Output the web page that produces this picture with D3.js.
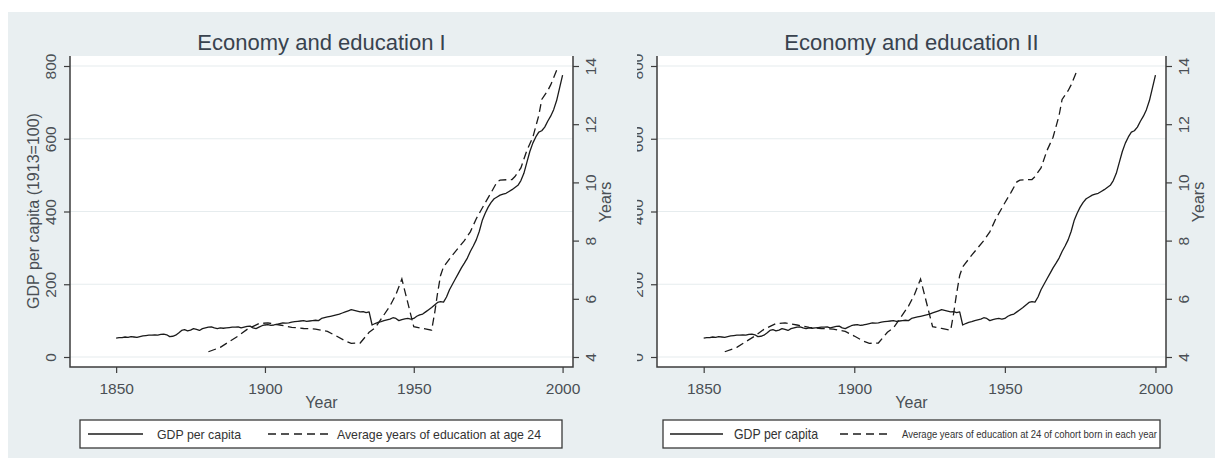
<!DOCTYPE html>
<html>
<head>
<meta charset="utf-8">
<script src="https://cdn.jsdelivr.net/npm/d3@7"></script>
<style>
  body { margin: 0; background: #fff; }
  text { font-family: "Liberation Sans", Arial, sans-serif; }
</style>
</head>
<body>
<svg id="chart" width="1215" height="462"></svg>
<script>
// GDP per capita, 1913 = 100, one value per year 1850..2000
const gdpYears = d3.range(1850, 2001);
const gdpValues = [
  52, 53, 53, 55, 54, 56, 55, 54, 56, 58,
  59, 60, 60, 61, 60, 62, 63, 61, 56, 57,
  60, 66, 73, 75, 72, 74, 78, 76, 73, 78,
  80, 82, 83, 80, 78, 80, 79, 80, 81, 82,
  82, 83, 80, 82, 84, 85, 80, 78, 82, 86,
  88, 89, 87, 88, 90, 92, 94, 93, 94, 96,
  97, 98, 99, 100, 98, 99, 100, 101, 100, 106,
  108, 110, 112, 114, 116, 118, 121, 124, 127, 130,
  128, 126, 124, 125, 122, 124, 88, 92, 95, 97,
  100, 102, 104, 108, 106, 100, 103, 105, 106, 104,
  106, 112, 116, 118, 124, 130, 136, 143, 150, 152,
  151, 165, 185, 200, 215, 230, 245, 258, 272, 290,
  305, 322, 345, 375, 395, 412, 425, 435, 440, 445,
  448, 450, 455, 460, 466, 472, 485, 505, 535, 565,
  588, 605, 618, 622, 632, 648, 662, 680, 705, 740,
  775
];

// average years of education at age 24 (year observed)
const eduYears = [1881, 1885, 1888, 1891, 1894, 1898, 1901, 1905, 1909, 1913,
  1917, 1921, 1924, 1927, 1929, 1932, 1935, 1937, 1939, 1942,
  1944, 1946, 1950, 1953, 1956, 1957, 1958, 1959, 1960, 1963,
  1967, 1969, 1971, 1974, 1976, 1978, 1979, 1983, 1984, 1986,
  1988, 1990, 1992, 1993, 1995, 1996, 1998];
const eduValues = [4.18, 4.33, 4.53, 4.72, 4.95, 5.15, 5.17, 5.1, 5.02, 4.98,
  4.96, 4.88, 4.72, 4.55, 4.47, 4.48, 4.85, 5.0, 5.3, 5.75,
  6.15, 6.68, 5.04, 4.98, 4.92, 5.5, 6.2, 6.8, 7.1, 7.5,
  8.0, 8.3, 8.75, 9.3, 9.65, 10.02, 10.08, 10.1, 10.2, 10.5,
  11.1, 11.55, 12.3, 12.85, 13.15, 13.35, 13.85];

const COHORT_AGE = 24; // panel II plots education by birth year of the cohort

const gdpTicks = [0, 200, 400, 600, 800];
const eduTicks = [4, 6, 8, 10, 12, 14];
const yearTicks = [1850, 1900, 1950, 2000];

const gdp = gdpYears.map((y, i) => ({ year: y, v: gdpValues[i] }));
const edu = eduYears.map((y, i) => ({ year: y, v: eduValues[i] }));

const INK = "#1b1b1b",
  AXIS = "#3d3d3d",
  LABEL = "#4a4f55",
  TITLE = "#38424e";

const panels = [
  {
    title: "Economy and education I",
    left: 70, right: 573, shift: 0, clipX: 0,
    legend: {
      x: 80, w: 482, line: [88, 143], gdpX: 157, gdpSize: 13, gdpLen: 84,
      dash: [268, 328], eduX: 337, eduSize: 13, eduLen: 204,
      eduLabel: "Average years of education at age 24",
    },
  },
  {
    title: "Economy and education II",
    left: 657, right: 1166, shift: COHORT_AGE, clipX: 637,
    legend: {
      x: 663, w: 497, line: [670, 723], gdpX: 734, gdpSize: 14.5, gdpLen: 84,
      dash: [840, 892], eduX: 902, eduSize: 10, eduLen: 255,
      eduLabel: "Average years of education at 24 of cohort born in each year",
    },
  },
];

const svg = d3.select("#chart");

// graph region background
svg.append("rect").attr("x", 8).attr("y", 12).attr("width", 1207).attr("height", 446)
  .attr("fill", "#e9eff1");

const plotTop = 56, plotBottom = 367;

panels.forEach((p, pi) => {
  const x = d3.scaleLinear().domain([1834.5, 2003.5]).range([p.left, p.right]);
  const yL = d3.scaleLinear().domain([0, 800]).range([357, 66]);
  const yR = d3.scaleLinear().domain([4, 14]).range([357, 66]);

  let g = svg.append("g");
  if (p.clipX) {
    svg.append("clipPath").attr("id", "clip" + pi)
      .append("rect").attr("x", p.clipX).attr("y", 0).attr("width", 1215 - p.clipX).attr("height", 462);
    g.attr("clip-path", `url(#clip${pi})`);
  }

  g.append("rect").attr("x", p.left).attr("y", plotTop)
    .attr("width", p.right - p.left).attr("height", plotBottom - plotTop).attr("fill", "#fff");

  // gridlines
  g.selectAll("line.grid").data(gdpTicks).enter().append("line")
    .attr("x1", p.left).attr("x2", p.right)
    .attr("y1", (d) => yL(d)).attr("y2", (d) => yL(d))
    .attr("stroke", "#e6ecee").attr("stroke-width", 1.2);

  // axes
  const left = g.append("g").attr("transform", `translate(${p.left},0)`)
    .call(d3.axisLeft(yL).tickValues(gdpTicks).tickSize(6));
  const right = g.append("g").attr("transform", `translate(${p.right},0)`)
    .call(d3.axisRight(yR).tickValues(eduTicks).tickSize(6));
  const bottom = g.append("g").attr("transform", `translate(0,${plotBottom})`)
    .call(d3.axisBottom(x).tickValues(yearTicks).tickFormat(d3.format("d")).tickSize(6));

  [left, right, bottom].forEach((ax) => {
    ax.select(".domain").remove();
    ax.selectAll(".tick line").attr("stroke", AXIS).attr("stroke-width", 1.2);
    ax.selectAll(".tick text").attr("fill", LABEL).attr("font-size", 15.5)
      .attr("font-family", '"Liberation Sans", Arial, sans-serif');
  });
  left.selectAll(".tick text")
    .attr("x", null).attr("dy", null)
    .attr("text-anchor", "middle")
    .attr("transform", "translate(-14,0) rotate(-90)");
  right.selectAll(".tick text")
    .attr("x", null).attr("dy", null)
    .attr("text-anchor", "middle")
    .attr("transform", "translate(23,0) rotate(-90)");
  bottom.selectAll(".tick text").attr("dy", null).attr("y", 27);

  // axis lines (no top axis)
  g.append("path")
    .attr("d", `M${p.left},${plotTop}V${plotBottom}H${p.right}V${plotTop}`)
    .attr("fill", "none").attr("stroke", AXIS).attr("stroke-width", 1.5);

  // axis titles
  g.append("text").attr("transform", `translate(${p.left - 31},211) rotate(-90)`)
    .attr("text-anchor", "middle").attr("font-size", 16).attr("fill", LABEL)
    .text("GDP per capita (1913=100)");
  g.append("text").attr("transform", `translate(${p.right + 38},202) rotate(-90)`)
    .attr("text-anchor", "middle").attr("font-size", 16).attr("fill", LABEL)
    .text("Years");
  g.append("text").attr("x", (p.left + p.right) / 2).attr("y", 408)
    .attr("text-anchor", "middle").attr("font-size", 16).attr("fill", LABEL)
    .text("Year");

  // title
  g.append("text").attr("x", (p.left + p.right) / 2).attr("y", 50)
    .attr("text-anchor", "middle").attr("font-size", 22).attr("fill", TITLE)
    .text(p.title);

  // series
  const gdpLine = d3.line().x((d) => x(d.year)).y((d) => yL(d.v));
  const eduLine = d3.line().x((d) => x(d.year - p.shift)).y((d) => yR(d.v));

  g.append("path").datum(gdp).attr("d", gdpLine)
    .attr("fill", "none").attr("stroke", INK).attr("stroke-width", 1.3)
    .attr("stroke-linejoin", "round");
  g.append("path").datum(edu).attr("d", eduLine)
    .attr("fill", "none").attr("stroke", INK).attr("stroke-width", 1.3)
    .attr("stroke-dasharray", "8,4.5");

  // legend
  const L = p.legend, ly = 434;
  g.append("rect").attr("x", L.x).attr("y", 420).attr("width", L.w).attr("height", 28)
    .attr("fill", "#fff").attr("stroke", "#3a3a3a").attr("stroke-width", 1.3);
  g.append("line").attr("x1", L.line[0]).attr("x2", L.line[1]).attr("y1", ly).attr("y2", ly)
    .attr("stroke", INK).attr("stroke-width", 1.3);
  g.append("line").attr("x1", L.dash[0]).attr("x2", L.dash[1]).attr("y1", ly).attr("y2", ly)
    .attr("stroke", INK).attr("stroke-width", 1.3).attr("stroke-dasharray", "8,5");
  g.append("text").attr("x", L.gdpX).attr("y", ly).attr("dy", "0.36em")
    .attr("font-size", L.gdpSize).attr("fill", "#333")
    .attr("textLength", L.gdpLen).attr("lengthAdjust", "spacingAndGlyphs")
    .text("GDP per capita");
  g.append("text").attr("x", L.eduX).attr("y", ly).attr("dy", "0.36em")
    .attr("font-size", L.eduSize).attr("fill", "#333")
    .attr("textLength", L.eduLen).attr("lengthAdjust", "spacingAndGlyphs")
    .text(L.eduLabel);
});
</script>
</body>
</html>
